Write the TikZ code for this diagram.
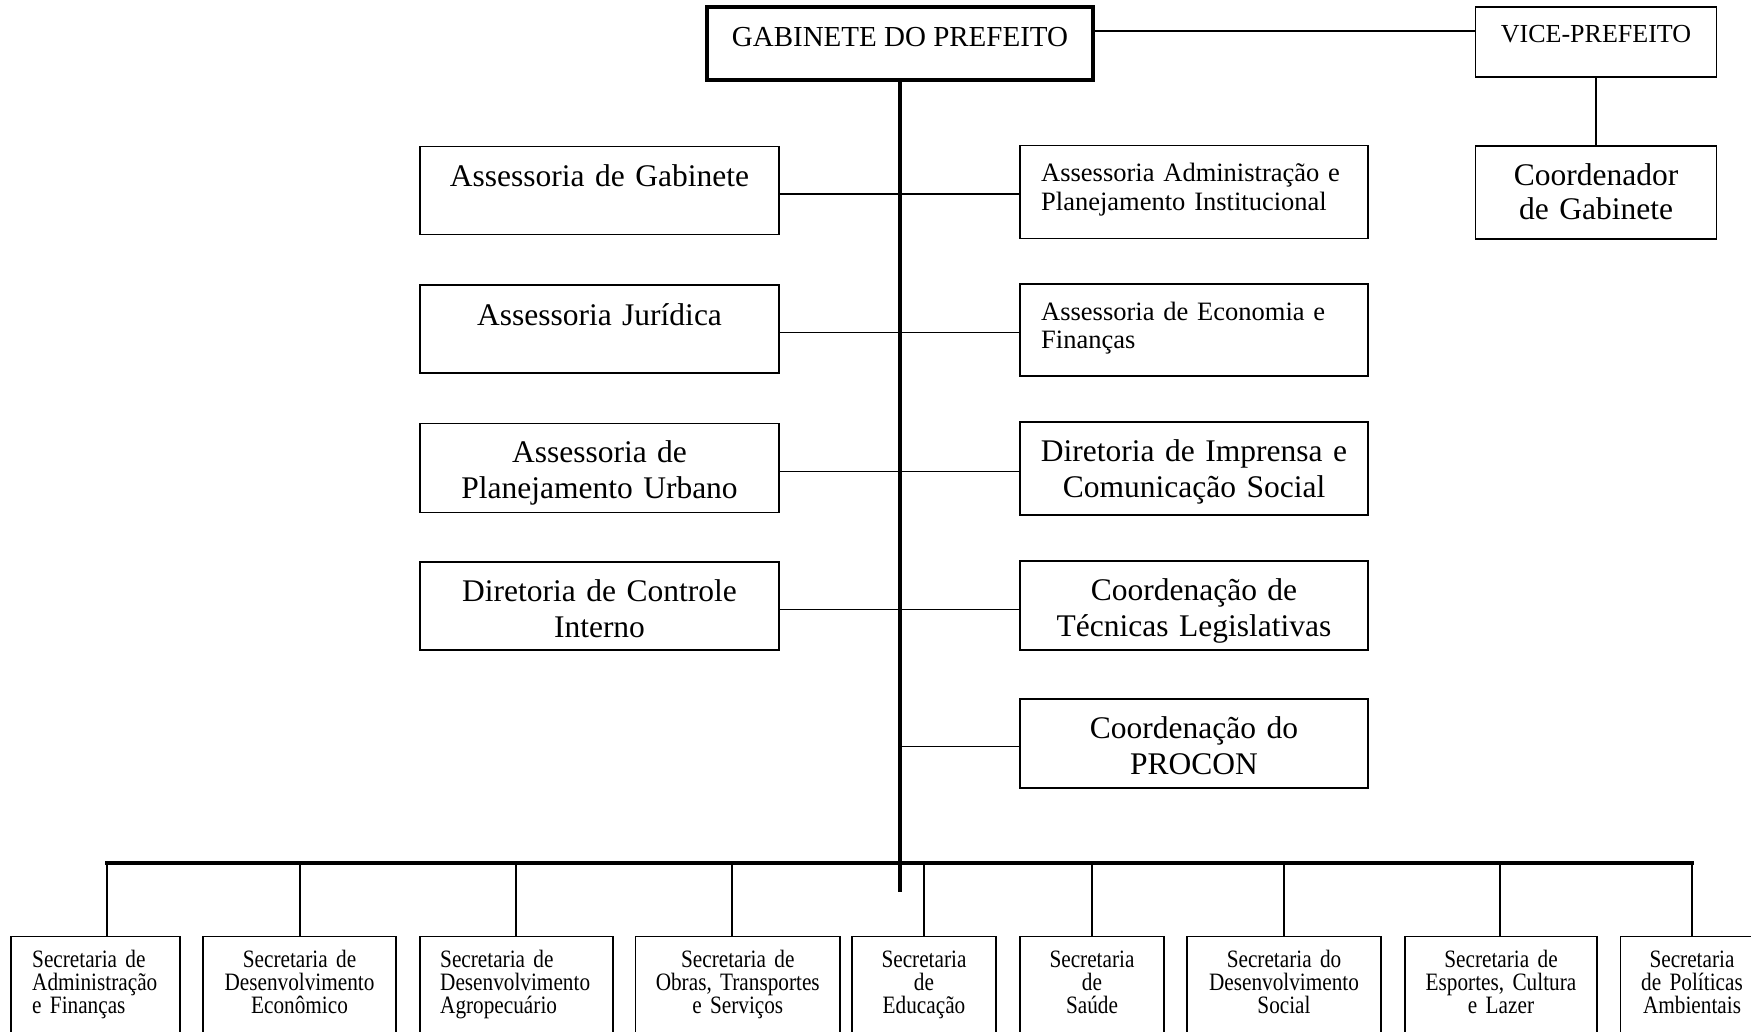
\documentclass[tikz,border=0pt]{standalone}
\usepackage{fontspec}
\setmainfont{Liberation Serif}
\newfontfamily\narrowserif{Liberation Serif}[FakeStretch=0.85]
\usetikzlibrary{calc}

\tikzset{
  orgbox/.style={draw, line width=1.8pt, inner sep=0pt, fill=white},
  headbox/.style={draw, line width=4.5pt, inner sep=0pt},
  link/.style={line width=1.8pt},
  spine/.style={line width=4.5pt},
  lbl/.style={inner sep=0pt, anchor=base},
  big/.style={font=\fontsize{31.5}{36}\selectfont, text width=#1, align=center},
  mid/.style={font=\fontsize{26.5}{28.5}\selectfont, text width=330pt, align=left, anchor=base west},
  sml/.style={font=\narrowserif\fontsize{25}{23}\selectfont, text width=#1, align=center},
  smlleft/.style={font=\narrowserif\fontsize{25}{23}\selectfont, text width=#1, align=left, anchor=base west},
}

\begin{document}
\begin{tikzpicture}[x=1pt, y=-1pt]
\useasboundingbox (0,0) rectangle (1751,1031);
\clip (0,0) rectangle (1751,1031);

% top: mayor, vice-mayor and his coordinator
\node[headbox, minimum width=386pt, minimum height=73pt] (gab) at (900,43.5) {};
\node[lbl, font=\fontsize{29}{33}\selectfont] (gabt) at (900,46) {GABINETE DO PREFEITO};

\node[orgbox, minimum width=241pt, minimum height=70pt] (vice) at (1596,42) {};
\node[lbl, font=\fontsize{26}{30}\selectfont] (vicet) at (1596,42) {VICE-PREFEITO};

\node[orgbox, minimum width=241pt, minimum height=93pt] (coord) at (1596,192.5) {};
\node[lbl, big=235pt, font=\fontsize{31.5}{34}\selectfont] (coordt) at (1596,185) {Coordenador\\de Gabinete};

\coordinate (vl) at ([yshift=11pt]vice.west);
\draw[link] (vl) -- (vl -| gab.east);
\draw[link] (vice.south) -- (coord.north);

% advisory units, left column
\node[orgbox, minimum width=359pt, minimum height=88pt] (la) at (599.5,190.5) {};
\node[lbl, big=350pt] (lat) at (599.5,186.5) {Assessoria de Gabinete};
\node[orgbox, minimum width=359pt, minimum height=88pt] (lb) at (599.5,329) {};
\node[lbl, big=350pt] (lbt) at (599.5,325) {Assessoria Jurídica};
\node[orgbox, minimum width=359pt, minimum height=89pt] (lc) at (599.5,468) {};
\node[lbl, big=350pt] (lct) at (599.5,462.5) {Assessoria de\\Planejamento Urbano};
\node[orgbox, minimum width=359pt, minimum height=88pt] (ld) at (599.5,606) {};
\node[lbl, big=350pt] (ldt) at (599.5,601) {Diretoria de Controle\\Interno};

% advisory units, right column
\node[orgbox, minimum width=348pt, minimum height=93pt] (ra) at (1194,192) {};
\node[lbl, mid] (rat) at (1041,181.5) {Assessoria Administração e\\Planejamento Institucional};
\node[orgbox, minimum width=348pt, minimum height=92pt] (rb) at (1194,330) {};
\node[lbl, mid] (rbt) at (1041,320) {Assessoria de Economia e\\Finanças};
\node[orgbox, minimum width=348pt, minimum height=93pt] (rc) at (1194,468.5) {};
\node[lbl, big=340pt] (rct) at (1194,461.5) {Diretoria de Imprensa e\\Comunicação Social};
\node[orgbox, minimum width=348pt, minimum height=89pt] (rd) at (1194,605.5) {};
\node[lbl, big=340pt] (rdt) at (1194,600.5) {Coordenação de\\Técnicas Legislativas};
\node[orgbox, minimum width=348pt, minimum height=89pt] (re) at (1194,743.5) {};
\node[lbl, big=340pt] (ret) at (1194,738.5) {Coordenação do\\PROCON};

% secretariats along the bottom
\node[orgbox, minimum width=169pt, minimum height=120pt] (s1) at (95.5,996.5) {};
\node[lbl, smlleft=165pt] (s1t) at (32,967.5) {Secretaria de\\Administração\\e Finanças};
\node[orgbox, minimum width=193pt, minimum height=120pt] (s2) at (299.5,996.5) {};
\node[lbl, sml=189pt] (s2t) at (299.5,967.5) {Secretaria de\\Desenvolvimento\\Econômico};
\node[orgbox, minimum width=193pt, minimum height=120pt] (s3) at (516.5,996.5) {};
\node[lbl, smlleft=170pt] (s3t) at (440,967.5) {Secretaria de\\Desenvolvimento\\Agropecuário};
\node[orgbox, minimum width=204.5pt, minimum height=120pt] (s4) at (737.75,996.5) {};
\node[lbl, sml=200pt] (s4t) at (737.75,967.5) {Secretaria de\\Obras, Transportes\\e Serviços};
\node[orgbox, minimum width=144pt, minimum height=120pt] (s5) at (924,996.5) {};
\node[lbl, sml=140pt] (s5t) at (924,967.5) {Secretaria\\de\\Educação};
\node[orgbox, minimum width=144pt, minimum height=120pt] (s6) at (1092,996.5) {};
\node[lbl, sml=140pt] (s6t) at (1092,967.5) {Secretaria\\de\\Saúde};
\node[orgbox, minimum width=194pt, minimum height=120pt] (s7) at (1284,996.5) {};
\node[lbl, sml=190pt] (s7t) at (1284,967.5) {Secretaria do\\Desenvolvimento\\Social};
\node[orgbox, minimum width=192pt, minimum height=120pt] (s8) at (1501,996.5) {};
\node[lbl, sml=188pt] (s8t) at (1501,967.5) {Secretaria de\\Esportes, Cultura\\e Lazer};
\node[orgbox, minimum width=143pt, minimum height=120pt] (s9) at (1692,996.5) {};
\node[lbl, sml=140pt] (s9t) at (1692,967.5) {Secretaria\\de Políticas\\Ambientais};

% main trunk and links to the advisory units
\coordinate (trunkend) at (900,892);
\draw[spine] (gab.south) -- (trunkend);
\draw[link] ([yshift=-3.5pt]la.east) -- ([yshift=-3.5pt]la.east -| ra.west);
\draw[link] ([yshift=-3.5pt]lb.east) -- ([yshift=-3.5pt]lb.east -| rb.west);
\draw[link] ([yshift=-3.5pt]lc.east) -- ([yshift=-3.5pt]lc.east -| rc.west);
\draw[link] ([yshift=-3.5pt]ld.east) -- ([yshift=-3.5pt]ld.east -| rd.west);
\draw[link] ([yshift=-3pt]re.west) -- ([yshift=-3pt]re.west -| gab.south);

% bus to the secretariats
\coordinate (d1) at (107,863);
\coordinate (d2) at (300,863);
\coordinate (d3) at (516,863);
\coordinate (d4) at (732,863);
\coordinate (d5) at (924,863);
\coordinate (d6) at (1092,863);
\coordinate (d7) at (1284,863);
\coordinate (d8) at (1500,863);
\coordinate (d9) at (1692,863);
\draw[spine, line cap=rect] (d1) -- (d9);
\foreach \i in {1,...,9} {
  \draw[link] (d\i) -- (d\i |- s\i.north);
}
\end{tikzpicture}
\end{document}
